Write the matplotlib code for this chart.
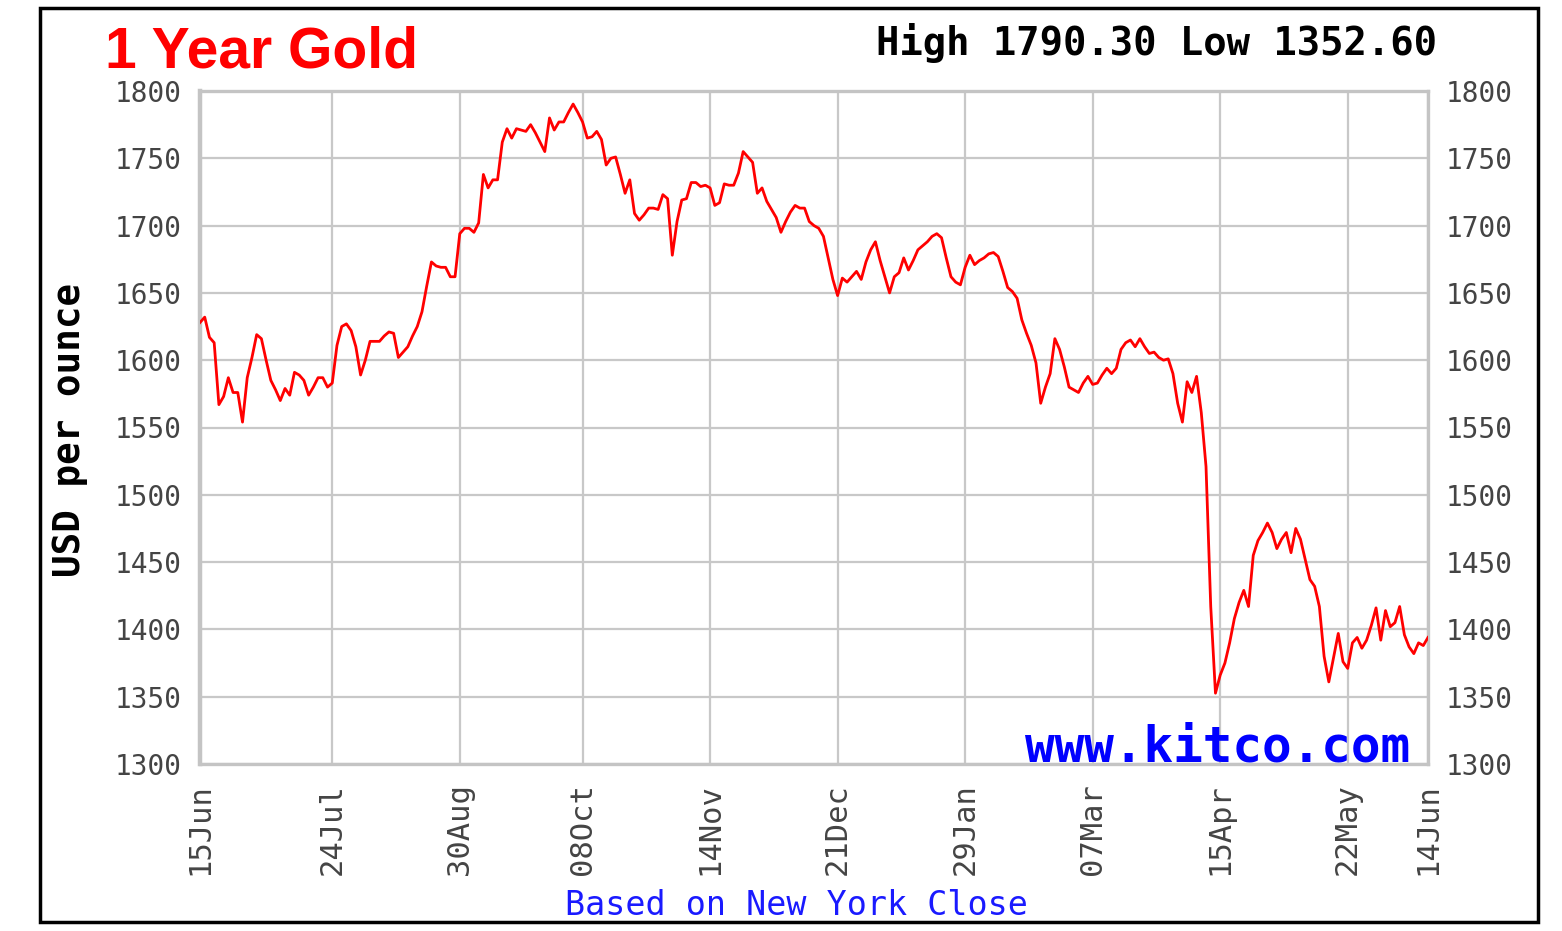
import numpy as np
import matplotlib
matplotlib.use("Agg")
import matplotlib.pyplot as plt
from matplotlib.patches import Rectangle

# daily New York close, USD per ounce, 15 Jun -> 14 Jun
prices = [
    1628, 1632, 1617, 1613, 1567, 1573, 1587, 1576, 1576, 1554,
    1587, 1602, 1619, 1616, 1600, 1585, 1578, 1570, 1579, 1574,
    1591, 1589, 1585, 1574, 1580, 1587, 1587, 1580, 1583, 1611,
    1625, 1627, 1622, 1610, 1589, 1600, 1614, 1614, 1614, 1618,
    1621, 1620, 1602, 1606, 1610, 1618, 1625, 1636, 1655, 1673,
    1670, 1669, 1669, 1662, 1662, 1694, 1698, 1698, 1695, 1702,
    1738, 1728, 1734, 1734, 1762, 1772, 1765, 1772, 1771, 1770,
    1775, 1769, 1762, 1755, 1780, 1771, 1777, 1777, 1784, 1790.3,
    1784, 1777, 1765, 1766, 1770, 1764, 1745, 1750, 1751, 1738,
    1724, 1734, 1709, 1704, 1708, 1713, 1713, 1712, 1723, 1720,
    1678, 1703, 1719, 1720, 1732, 1732, 1729, 1730, 1728, 1715,
    1717, 1731, 1730, 1730, 1739, 1755, 1751, 1747, 1724, 1728,
    1718, 1712, 1706, 1695, 1703, 1710, 1715, 1713, 1713, 1703,
    1700, 1698, 1692, 1676, 1660, 1648, 1661, 1658, 1662, 1666,
    1660, 1673, 1682, 1688, 1674, 1662, 1650, 1662, 1665, 1676,
    1667, 1674, 1682, 1685, 1688, 1692, 1694, 1691, 1676, 1662,
    1658, 1656, 1669, 1678, 1671, 1674, 1676, 1679, 1680, 1677,
    1666, 1654, 1651, 1646, 1630, 1620, 1611, 1598, 1568, 1580,
    1590, 1616, 1608, 1595, 1580, 1578, 1576, 1583, 1588, 1582,
    1583, 1589, 1594, 1590, 1594, 1608, 1613, 1615, 1610, 1616,
    1610, 1605, 1606, 1602, 1600, 1601, 1590, 1568, 1554, 1584,
    1576, 1588, 1561, 1521, 1417, 1352.6, 1366, 1375, 1390, 1408,
    1420, 1429, 1417, 1455, 1466, 1472, 1479, 1472, 1460, 1467,
    1472, 1457, 1475, 1467, 1452, 1437, 1432, 1417, 1380, 1361,
    1379, 1397, 1376, 1371, 1390, 1394, 1386, 1392, 1403, 1416,
    1392, 1414, 1402, 1405, 1417, 1396, 1387, 1382, 1390, 1388,
    1394,
]

# trading-day index of each date label
tick_days = [0, 28, 55, 81, 108, 135, 162, 189, 216, 243, 260]
tick_labels = ["15Jun", "24Jul", "30Aug", "08Oct", "14Nov", "21Dec",
               "29Jan", "07Mar", "15Apr", "22May", "14Jun"]
y_ticks = list(range(1300, 1801, 50))

high = 1790.30
low = 1352.60

W, H = 1562, 931
fig = plt.figure(figsize=(W / 100, H / 100), dpi=100)
fig.patch.set_facecolor("white")

# outer black frame
fig.patches.append(Rectangle((40 / W, 1 - 922 / H), 1498 / W, 914 / H,
                             transform=fig.transFigure, fill=False,
                             edgecolor="black", linewidth=2.5))

ax = fig.add_axes([200 / W, 1 - 764 / H, 1228 / W, 673 / H])
days = np.arange(len(prices))
ax.plot(days, prices, color="#ff0000", linewidth=2.0, zorder=3)

ax.set_xlim(0, len(prices) - 1)
ax.set_ylim(1300, 1800)
ax.set_xticks(tick_days)
ax.set_xticklabels(tick_labels, rotation=90)
ax.set_yticks(y_ticks)

ax.grid(True, color="#c8c8c8", linewidth=1.6)
for s in ax.spines.values():
    s.set_color("#c4c4c4")
    s.set_linewidth(2.4)
ax.spines["left"].set_linewidth(3.2)

ax.tick_params(axis="both", length=0, colors="#444444")
ax.tick_params(axis="y", labelleft=True, labelright=True, pad=13)
ax.tick_params(axis="x", pad=14)
for lab in ax.get_yticklabels():
    lab.set_fontfamily("DejaVu Sans Mono")
    lab.set_fontsize(20)
for lab in ax.get_xticklabels():
    lab.set_fontfamily("DejaVu Sans Mono")
    lab.set_fontsize(22)

# texts
fig.text(105 / W, 1 - 68 / H, "1 Year Gold", color="#ff0000",
         fontsize=41, fontweight="bold", family="Liberation Sans",
         ha="left", va="baseline")
fig.text(1437 / W, 1 - 55 / H, f"High {high:.2f} Low {low:.2f}",
         color="black", fontsize=28, fontweight="bold",
         family="DejaVu Sans Mono", ha="right", va="baseline")
fig.text(70 / W, 1 - 430 / H, "USD per ounce", rotation=90,
         color="black", fontsize=27, fontweight="bold",
         family="DejaVu Sans Mono", ha="center", va="center")
fig.text(1410 / W, 1 - 761 / H, "www.kitco.com", color="#0000ff",
         fontsize=35.5, fontweight="bold", family="DejaVu Sans Mono",
         ha="right", va="baseline", zorder=5)
fig.text(565 / W, 1 - 915 / H, "Based on New York Close",
         color="#1a1aff", fontsize=24, family="DejaVu Sans Mono",
         ha="left", va="baseline")

fig.savefig("out.png", dpi=100)
